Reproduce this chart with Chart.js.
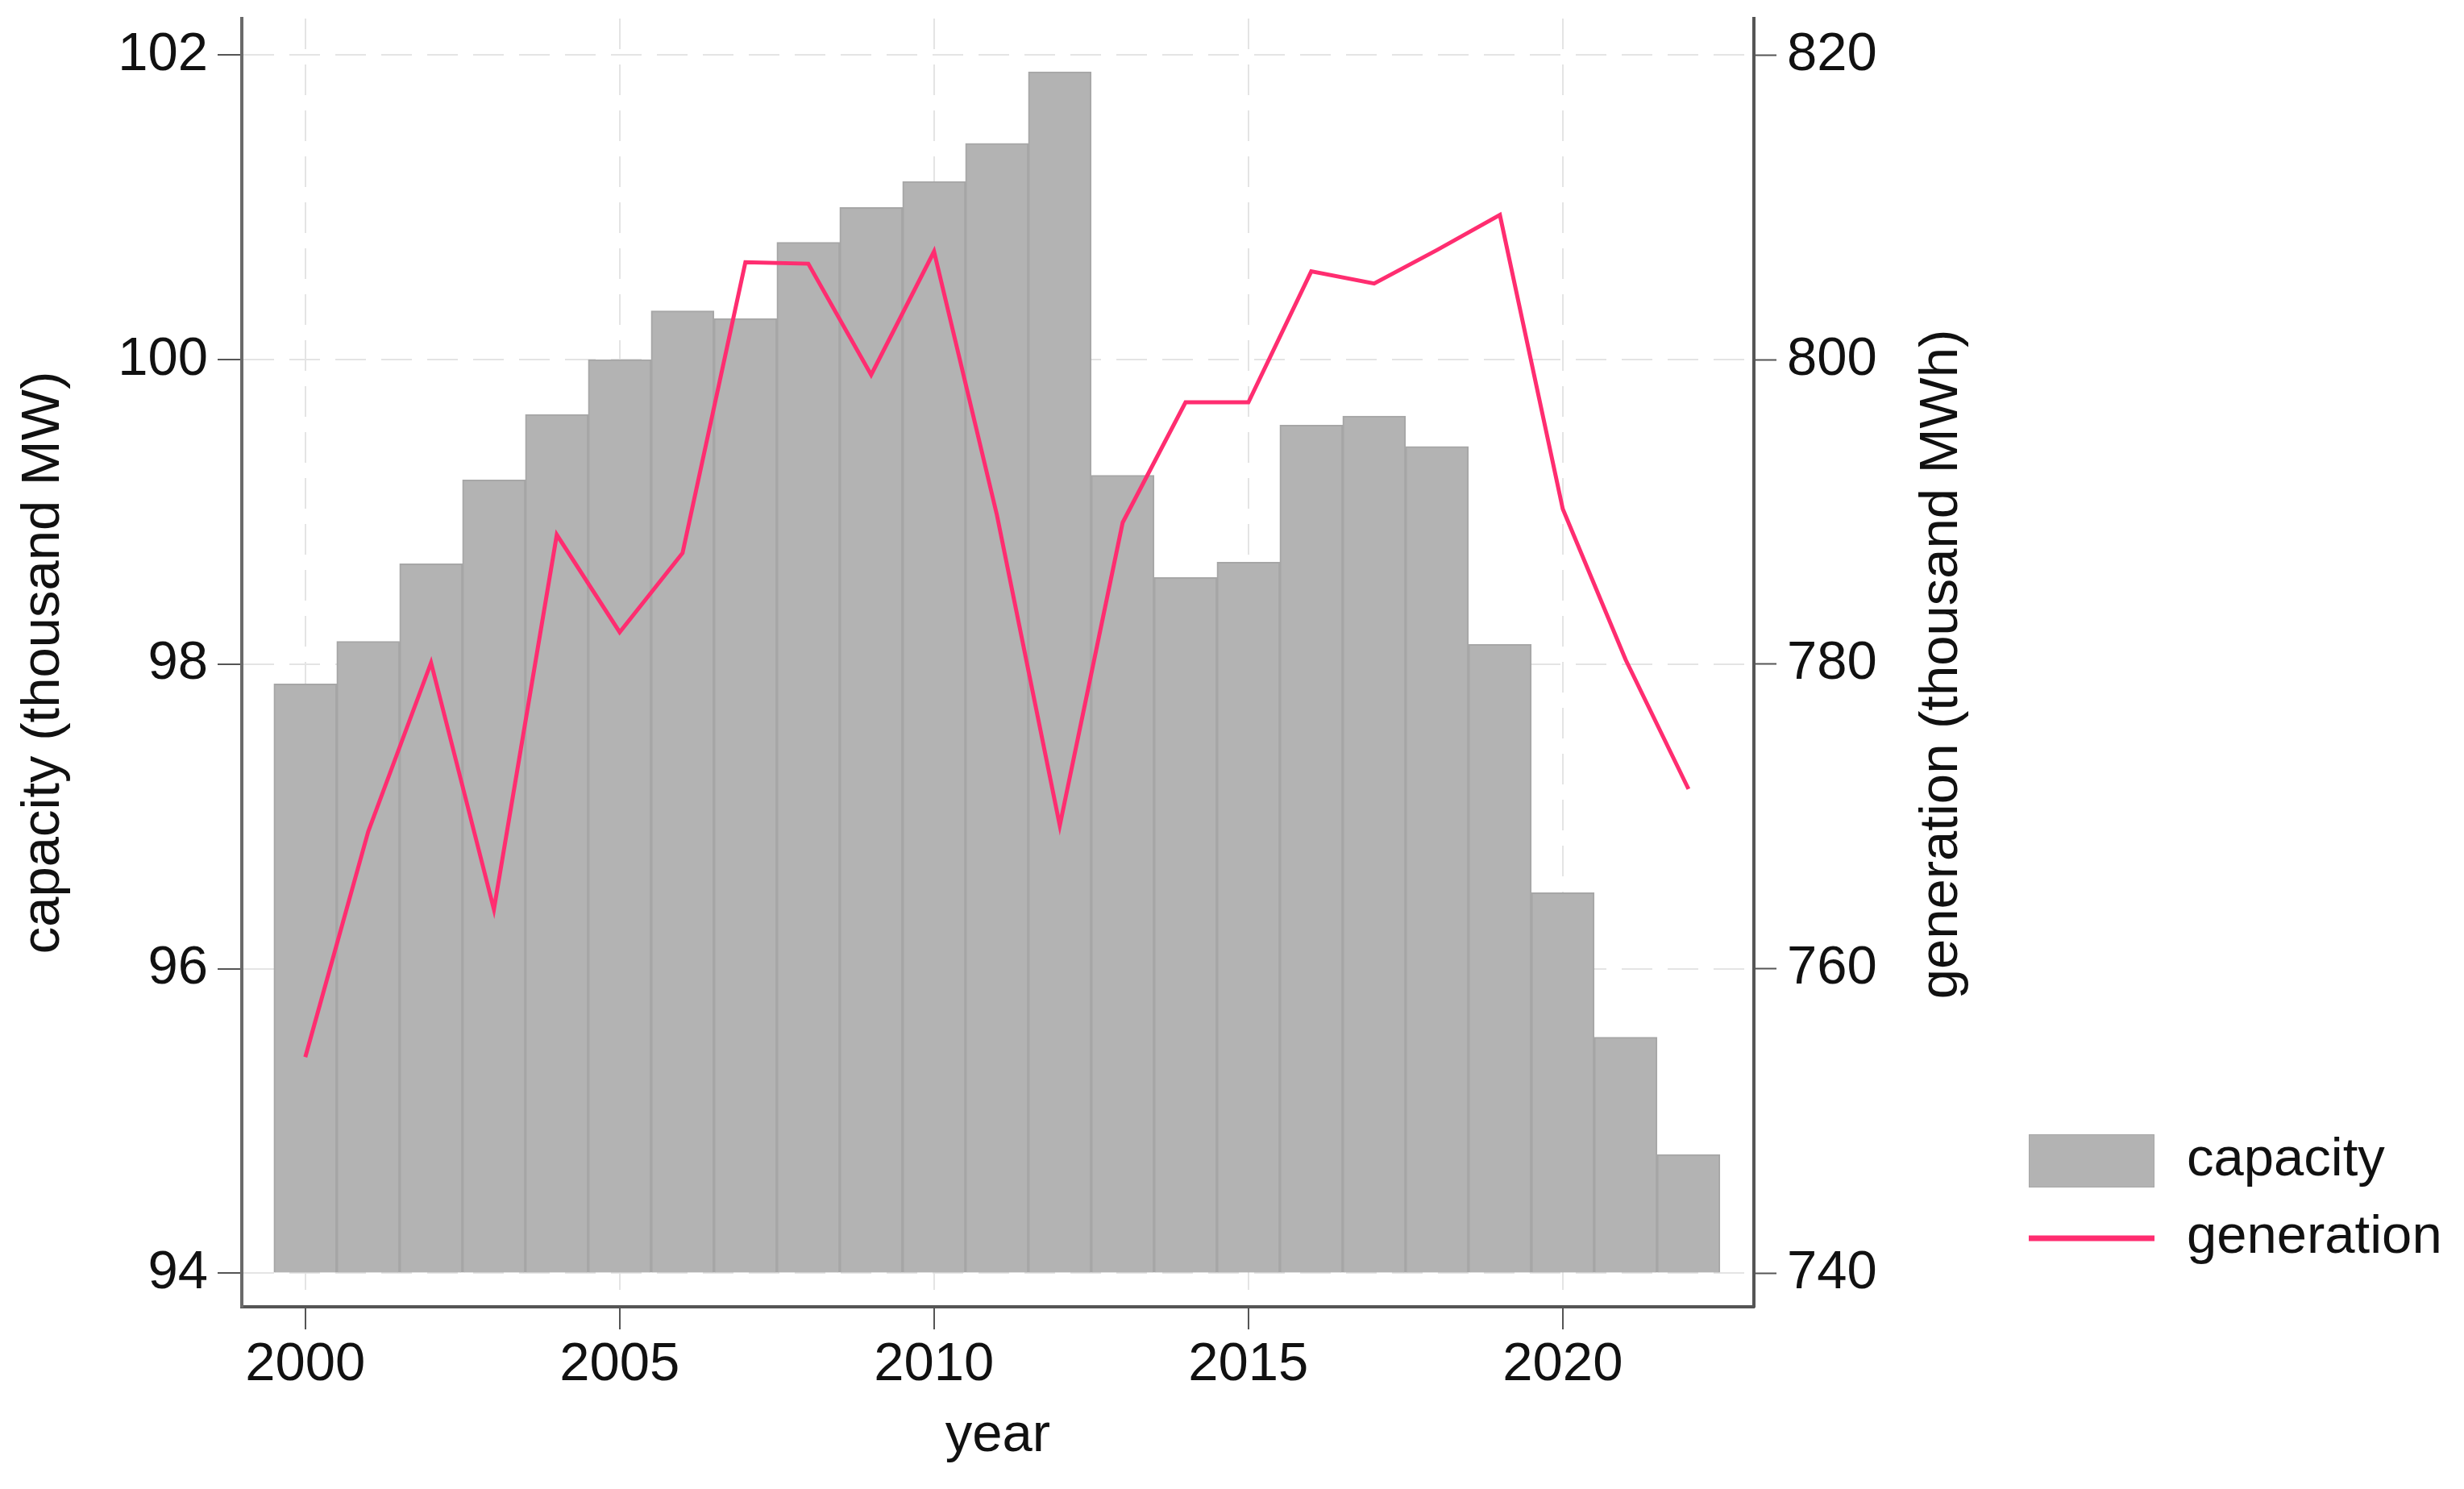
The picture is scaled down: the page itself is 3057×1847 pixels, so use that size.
<!DOCTYPE html>
<html>
<head>
<meta charset="utf-8">
<script src="https://cdn.jsdelivr.net/npm/chart.js@4"></script>
<style>html,body{margin:0;padding:0;background:#fff}canvas{display:block}</style>
</head>
<body>
<canvas id="c" width="3057" height="1847"></canvas>
<script>
// ---- data ----
const years = [2000,2001,2002,2003,2004,2005,2006,2007,2008,2009,2010,2011,2012,2013,2014,2015,2016,2017,2018,2019,2020,2021,2022];
const capacity = [97.87,98.15,98.66,99.21,99.64,100.00,100.32,100.27,100.77,101.00,101.17,101.42,101.89,99.24,98.57,98.67,99.57,99.63,99.43,98.13,96.50,95.55,94.78];
const generation = [754.2,769.0,780.1,763.9,788.5,782.1,787.3,806.4,806.3,799.0,807.1,789.8,769.4,789.3,797.2,797.2,805.8,805.0,807.2,809.5,790.2,780.3,771.8];
const xTicks = [2000,2005,2010,2015,2020];
const capTicks = [94,96,98,100,102];
const genTicks = [740,760,780,800,820];
const capBase = 94;
const seriesLabels = ['capacity','generation'];
const axisTitles = {x:'year', y:'capacity (thousand MW)', y2:'generation (thousand MWh)'};

// ---- styles ----
const FONT = "'Liberation Sans', Arial, Helvetica, sans-serif";
const FS = 67;
const TEXT = '#111111';
const barFill = '#b3b3b3', barEdge = '#a6a6a6', lineColor = '#ff2d70';
const gridColor = '#e4e4e4', axisColor = '#555555';

function fixTicks(list){ return function(scale){ scale.ticks = list.map(v => ({value:v})); }; }
function fitSize(prop, size){ return function(scale){ scale[prop] = size; scale.paddingTop = 0; scale.paddingBottom = 0; scale.paddingLeft = 0; scale.paddingRight = 0; }; }

const overlay = {
  id: 'overlay',
  afterDraw(chart){
    const ctx = chart.ctx;
    const ca = chart.chartArea;
    const y2 = chart.scales.y2;
    ctx.save();
    ctx.fillStyle = TEXT;
    ctx.font = FS + 'px ' + FONT;
    // right axis title (reads bottom-to-top)
    ctx.save();
    ctx.translate(y2.left + 234, (ca.top + ca.bottom) / 2 + 2);
    ctx.rotate(-Math.PI / 2);
    ctx.textAlign = 'center';
    ctx.textBaseline = 'middle';
    ctx.fillText(axisTitles.y2, 0, 0);
    ctx.restore();
    // legend
    const lx = 2517, lw = 156;
    const barDs = chart.data.datasets[1], lineDs = chart.data.datasets[0];
    ctx.fillStyle = barDs.backgroundColor;
    ctx.fillRect(lx, 1407, lw, 66);
    ctx.strokeStyle = barDs.borderColor;
    ctx.lineWidth = 1;
    ctx.strokeRect(lx + 0.5, 1407.5, lw - 1, 65);
    ctx.strokeStyle = lineDs.borderColor;
    ctx.lineWidth = 7;
    ctx.beginPath();
    ctx.moveTo(lx, 1536);
    ctx.lineTo(lx + lw, 1536);
    ctx.stroke();
    ctx.fillStyle = TEXT;
    ctx.textAlign = 'left';
    ctx.textBaseline = 'middle';
    ctx.fillText(barDs.label, 2713, 1440);
    ctx.fillText(lineDs.label, 2713, 1536);
    ctx.restore();
  }
};

new Chart(document.getElementById('c'), {
  data: {
    datasets: [
      {
        type: 'line', label: seriesLabels[1],
        data: years.map((y, i) => ({x: y, y: generation[i]})),
        xAxisID: 'x', yAxisID: 'y2',
        borderColor: lineColor, borderWidth: 5, pointRadius: 0, tension: 0,
        fill: false, borderJoinStyle: 'miter', order: 0
      },
      {
        type: 'bar', label: seriesLabels[0],
        data: years.map((y, i) => ({x: y, y: capacity[i]})),
        xAxisID: 'x', yAxisID: 'y', base: capBase,
        backgroundColor: barFill, borderColor: barEdge, borderWidth: 2,
        barPercentage: 1, categoryPercentage: 1, order: 1
      }
    ]
  },
  options: {
    responsive: false, animation: false, devicePixelRatio: 1,
    layout: {padding: {top: 23, left: 0, right: 0, bottom: 0}},
    plugins: {legend: {display: false}, title: {display: false}, tooltip: {enabled: false}},
    scales: {
      x: {
        type: 'linear', position: 'bottom', min: 1998.99, max: 2023.04, offset: false,
        afterBuildTicks: fixTicks(xTicks), afterFit: fitSize('height', 226),
        ticks: {callback: v => String(v), font: {family: FONT, size: FS}, color: TEXT, padding: 4, maxRotation: 0, autoSkip: false},
        grid: {offset: false, color: gridColor, lineWidth: 2, drawOnChartArea: true, drawTicks: true, tickLength: 28, tickColor: axisColor, tickWidth: 2, tickBorderDash: []},
        border: {display: true, color: axisColor, width: 4, dash: [38, 19]},
        title: {display: true, text: axisTitles.x, font: {family: FONT, size: FS}, color: TEXT, padding: {top: 0, bottom: 25}}
      },
      y: {
        type: 'linear', position: 'left', min: 93.78, max: 102.24,
        afterBuildTicks: fixTicks(capTicks), afterFit: fitSize('width', 300),
        ticks: {callback: v => String(v), font: {family: FONT, size: FS}, color: TEXT, padding: 12},
        grid: {color: gridColor, lineWidth: 2, drawOnChartArea: true, drawTicks: true, tickLength: 30, tickColor: axisColor, tickWidth: 2, tickBorderDash: []},
        border: {display: true, color: '#6a6a6a', width: 4, dash: [38, 19]},
        title: {display: true, text: axisTitles.y, font: {family: FONT, size: FS}, color: TEXT, padding: {top: 14, bottom: 0}}
      },
      y2: {
        type: 'linear', position: 'right', min: 737.8, max: 822.4,
        afterBuildTicks: fixTicks(genTicks), afterFit: fitSize('width', 881),
        ticks: {callback: v => String(v), font: {family: FONT, size: FS}, color: TEXT, padding: 13},
        grid: {drawOnChartArea: false, drawTicks: true, tickLength: 28, tickColor: axisColor, tickWidth: 2, tickBorderDash: []},
        border: {display: true, color: axisColor, width: 4},
        title: {display: false}
      }
    }
  },
  plugins: [overlay]
});
</script>
</body>
</html>
